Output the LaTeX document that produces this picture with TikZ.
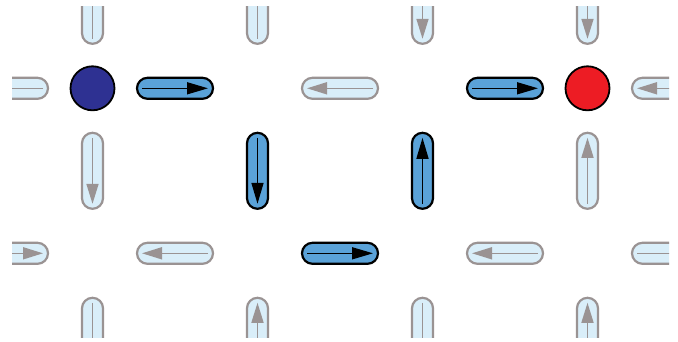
\documentclass[tikz,border=0pt]{standalone}
\usetikzlibrary{arrows.meta,calc}
\definecolor{darkfill}{HTML}{5AA2D8}
\definecolor{lightfill}{HTML}{D9EEF9}
\definecolor{greyline}{HTML}{9A9393}
\definecolor{bluedot}{HTML}{2E3192}
\definecolor{reddot}{HTML}{ED1C24}
\tikzset{
  pillbase/.style={rectangle, rounded corners=10.5pt, inner sep=0pt, line width=2.2pt},
  hpill/.style={pillbase, minimum width=76pt, minimum height=21pt},
  vpill/.style={pillbase, minimum width=21pt, minimum height=76pt},
  act/.style={fill=darkfill, draw=black},
  ina/.style={fill=lightfill, draw=greyline},
  aract/.style={draw=black, line width=1.5pt, -{Triangle[length=21pt,width=12pt]}},
  arina/.style={draw=greyline, line width=1.6pt, -{Triangle[length=20pt,width=12pt]}},
  dot/.style={circle, minimum size=44pt, inner sep=0pt, line width=1.8pt, draw=black}
}
\begin{document}
\begin{tikzpicture}[x=1pt,y=1pt]
\useasboundingbox (0,0) rectangle (678,341);
\fill[white] (0,0) rectangle (678,341);
\clip (12,4) rectangle (669,334);
% vertical pills: x / y / direction / state
\foreach \x/\y/\d/\st [count=\i] in {
  92.5/335.2/1/ina, 92.5/170.2/-1/ina, 92.5/5.2/-1/ina,
  257.5/335.2/1/ina, 257.5/170.2/-1/act, 257.5/5.2/1/ina,
  422.5/335.2/-1/ina, 422.5/170.2/1/act, 422.5/5.2/-1/ina,
  587.5/335.2/-1/ina, 587.5/170.2/1/ina, 587.5/5.2/1/ina}{
  \node[vpill,\st] (v\i) at (\x,\y) {};
  \draw[ar\st] ($(v\i.center)-(0,33*\d)$) -- ($(v\i.center)+(0,33*\d)$);
}
% horizontal pills: x / y / direction / state
\foreach \x/\y/\d/\st [count=\i] in {
  10/252.7/-1/ina, 175/252.7/1/act, 340/252.7/-1/ina, 505/252.7/1/act, 670/252.7/-1/ina,
  10/87.7/1/ina, 175/87.7/-1/ina, 340/87.7/1/act, 505/87.7/-1/ina, 670/87.7/1/ina}{
  \node[hpill,\st] (h\i) at (\x,\y) {};
  \draw[ar\st] ($(h\i.center)-(33*\d,0)$) -- ($(h\i.center)+(33*\d,0)$);
}
\node[dot, fill=bluedot] (blue) at (92.5,252.7) {};
\node[dot, fill=reddot] (red) at (587.5,252.7) {};
\end{tikzpicture}
\end{document}
